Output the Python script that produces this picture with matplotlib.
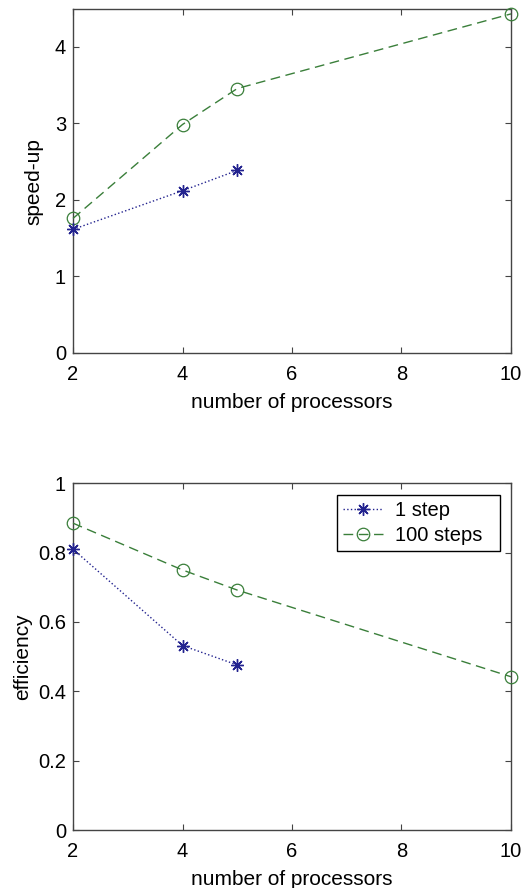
import numpy as np
import matplotlib.pyplot as plt

# datos
procs_1 = np.array([2, 4, 5])
procs_100 = np.array([2, 4, 5, 10])
speedup_1 = np.array([1.615, 2.12, 2.385])
speedup_100 = np.array([1.758, 2.985, 3.455, 4.43])
eff_1 = np.array([0.81, 0.532, 0.476])
eff_100 = np.array([0.885, 0.75, 0.692, 0.442])

plt.rcParams['font.family'] = ['Liberation Sans', 'DejaVu Sans']
plt.rcParams['font.size'] = 14.5

azul = '#23238f'
verde = '#3a7f3a'
asterisco = (8, 2, 0)

fig = plt.figure(figsize=(5.22, 8.88), dpi=100)
W, H = 522, 888
ax1 = fig.add_axes([73 / W, 1 - 353 / H, (511 - 73) / W, (353 - 9.3) / H])
ax2 = fig.add_axes([73 / W, 1 - 830 / H, (511 - 73) / W, (830 - 483.3) / H])

for ax, y1, y100 in [(ax1, speedup_1, speedup_100), (ax2, eff_1, eff_100)]:
    ax.plot(procs_1, y1, linestyle=':', color=azul, marker=asterisco, markersize=9,
            markeredgewidth=1, linewidth=1, label='1 step  ', clip_on=False, zorder=5)
    ax.plot(procs_100, y100, linestyle=(0, (7, 4)), color=verde, marker='o', markersize=9,
            markerfacecolor='none', markeredgewidth=0.9, linewidth=1, label='100 steps  ',
            clip_on=False, zorder=4)
    ax.set_xlim(2, 10)
    ax.set_xticks([2, 4, 6, 8, 10])
    ax.tick_params(direction='in', top=True, right=True, length=4, width=0.8,
                   colors='#444444', labelcolor='black')
    ax.tick_params(axis='x', pad=8.5)
    ax.tick_params(axis='y', pad=5)
    for s in ax.spines.values():
        s.set_color('#444444')
        s.set_linewidth(1)
    ax.set_xlabel('number of processors', fontsize=15, labelpad=6.5)

ax1.set_ylim(0, 4.49)
ax1.set_yticks([0, 1, 2, 3, 4])
ax1.set_ylabel('speed-up', fontsize=15, labelpad=8)

ax2.set_ylim(0, 1)
ax2.set_yticks([0, 0.2, 0.4, 0.6, 0.8, 1])
ax2.set_yticklabels(['0', '0.2', '0.4', '0.6', '0.8', '1'])
ax2.set_ylabel('efficiency', fontsize=15, labelpad=4)

leg = ax2.legend(loc='upper right', bbox_to_anchor=(0.975, 0.966), fancybox=False,
                 edgecolor='black', framealpha=1, handlelength=2.0,
                 borderaxespad=0, borderpad=0.3, labelspacing=0.3, handletextpad=0.6)
leg.get_frame().set_linewidth(1)

fig.savefig('out.png', dpi=100)
